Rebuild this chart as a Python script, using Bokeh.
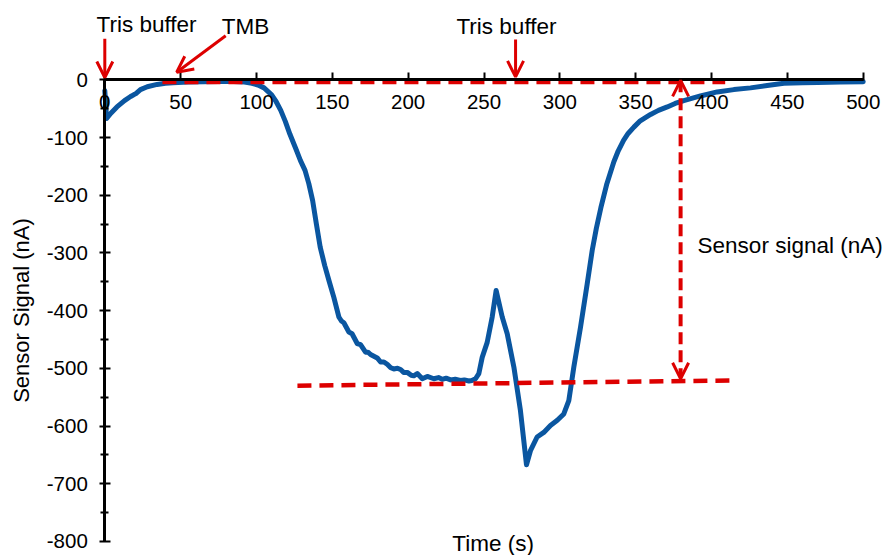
from bokeh.plotting import figure
from bokeh.models import (LinearAxis, Range1d, FixedTicker, Arrow, OpenHead,
                          ColumnDataSource)
from bokeh.core.properties import value
from bokeh.embed import file_html
from bokeh.resources import INLINE

# Sensor response over time (s) vs signal (nA)
time_s = [0, 1.2, 4, 8, 13, 17, 19, 20.5, 23.5, 28, 34.5, 40, 45, 55, 65, 75, 85,
          92, 97, 101, 105, 110, 113, 116, 119, 122, 126, 129, 132, 134.5, 137,
          139.5, 142, 145, 148, 151, 154.3,
          156, 157.6, 160.9, 163, 166.4, 168.6, 171.9, 173.5, 175.2, 179.6, 181.8,
          184, 186.2, 188.5, 190.5, 193, 195, 197, 199.4, 202, 203.7, 206, 209.3,
          212.6, 216.9, 220, 222.4, 225, 228, 231, 234.5, 237, 240, 242, 244.4,
          246.6, 248.8, 252.1, 255.4, 258, 262, 265.3, 269.7, 274, 278, 280.7,
          285, 289.4, 293.8, 298.3, 302.6, 305.9, 309.2, 313.6, 318, 321.3, 324,
          327, 331, 335.6, 338.5, 342, 345, 348.8, 353, 359.8, 365, 370.8, 376,
          381.7, 392.7, 403.7, 414.7, 425.7, 436.7, 447.7, 460, 470, 485, 500]
signal_na = [-19, -67, -58, -47, -36, -29, -26, -24, -17, -12, -8, -6, -5, -4,
             -3.5, -3, -3, -4, -6, -9, -14, -26, -38, -53, -72, -94, -120, -140,
             -157, -180, -209, -250, -290, -322, -350, -377, -411,
             -418, -421, -437, -440, -457, -459, -472,
             -472, -476, -482, -489, -489, -493, -499, -501, -500, -502, -507,
             -507, -512, -513, -509, -518, -514, -518, -516, -519, -517, -520,
             -519, -521, -520, -522, -521, -518, -509, -481, -455, -411, -365,
             -411, -440, -498, -573, -667, -642, -619, -611, -599, -590, -579,
             -556, -498, -429, -354, -296, -258, -222, -180, -142, -123, -105,
             -93, -82, -71, -60, -53, -47, -41, -36, -28, -21, -17, -14, -10,
             -6, -5, -4.5, -4, -3.5]

baseline_top_t = [38, 409]
baseline_top_v = [-4, -4]
baseline_bottom_t = [127, 414]
baseline_bottom_v = [-530, -521]

x_ticks = [0, 50, 100, 150, 200, 250, 300, 350, 400, 450, 500]
y_ticks = [0, -100, -200, -300, -400, -500, -600, -700, -800]
y_minor = [-50, -150, -250, -350, -450, -550, -650, -750]
y_tick_labels = ["0", "-100", "-200", "-300", "-400", "-500", "-600", "-700", "-800"]

FONT = "Liberation Sans"
RED = "#DD0000"
BLUE = "#0A56A0"

p = figure(width=887, height=555, x_range=Range1d(-68.76, 516.0),
           y_range=Range1d(-824.3, 137.4), x_axis_type=None, y_axis_type=None,
           toolbar_location=None, output_backend="svg", min_border=0,
           outline_line_color=None)
p.grid.visible = False

# x axis sits on the zero line
xaxis = LinearAxis(fixed_location=0, bounds=(0, 500),
                   ticker=FixedTicker(ticks=x_ticks))
xaxis.axis_line_width = 3
xaxis.major_tick_line_width = 2
xaxis.major_tick_in = 7
xaxis.major_tick_out = 1
xaxis.minor_tick_line_color = None
xaxis.major_label_text_font = FONT
xaxis.major_label_text_font_size = "20.5px"
xaxis.major_label_text_color = "black"
xaxis.major_label_standoff = 14
p.add_layout(xaxis, "below")

yaxis = LinearAxis(fixed_location=0, bounds=(-800, 0),
                   ticker=FixedTicker(ticks=y_ticks, minor_ticks=y_minor),
                   axis_label="Sensor Signal (nA)")
yaxis.major_label_overrides = dict(zip(y_ticks, y_tick_labels))
yaxis.axis_line_width = 3
yaxis.major_tick_line_width = 2
yaxis.major_tick_in = 6
yaxis.major_tick_out = 5
yaxis.minor_tick_line_width = 2
yaxis.minor_tick_in = 4
yaxis.minor_tick_out = 4
yaxis.major_label_text_font = FONT
yaxis.major_label_text_font_size = "20.5px"
yaxis.major_label_text_color = "black"
yaxis.major_label_standoff = 12
yaxis.axis_label_text_font = FONT
yaxis.axis_label_text_font_size = "22px"
yaxis.axis_label_text_font_style = "normal"
yaxis.axis_label_text_color = "black"
yaxis.axis_label_standoff = 9
p.add_layout(yaxis, "left")

# sensor trace
src = ColumnDataSource(dict(t=time_s, v=signal_na))
p.line("t", "v", source=src, line_color=BLUE, line_width=5,
       line_join="round", line_cap="round")

# dashed baselines
p.line(baseline_top_t, baseline_top_v, line_color=RED, line_width=4.5,
       line_dash="14 8")
p.line(baseline_bottom_t, baseline_bottom_v, line_color=RED, line_width=4.5,
       line_dash="14 8")


def head():
    return OpenHead(size=16, line_color=RED, line_width=3)


# injection markers
p.add_layout(Arrow(end=head(), x_start=0, y_start=71, x_end=0, y_end=4,
                   line_color=RED, line_width=3))
p.add_layout(Arrow(end=head(), x_start=79.7, y_start=76.4, x_end=47.4, y_end=13.2,
                   line_color=RED, line_width=3))
p.add_layout(Arrow(end=head(), x_start=270.8, y_start=70, x_end=270.8, y_end=5,
                   line_color=RED, line_width=3))

# signal amplitude (double arrow between the baselines)
p.add_layout(Arrow(start=head(), end=head(), x_start=379.6, y_start=-1,
                   x_end=379.6, y_end=-518, line_color=RED, line_width=4,
                   line_dash="12 6"))

# text annotations
p.text(x=[27.5, 92.8, 264.8], y=[95.8, 93.2, 92.3],
       text=["Tris buffer", "TMB", "Tris buffer"],
       text_font=value(FONT), text_font_size="22.5px", text_color="black",
       text_align="center", text_baseline="middle")
p.text(x=[390.8], y=[-287], text=["Sensor signal (nA)"],
       text_font=value(FONT), text_font_size="22.5px", text_color="black",
       text_align="left", text_baseline="middle")
p.text(x=[256], y=[-803.6], text=["Time (s)"],
       text_font=value(FONT), text_font_size="22.5px", text_color="black",
       text_align="center", text_baseline="middle")

open("out.html", "w").write(file_html(p, INLINE))
